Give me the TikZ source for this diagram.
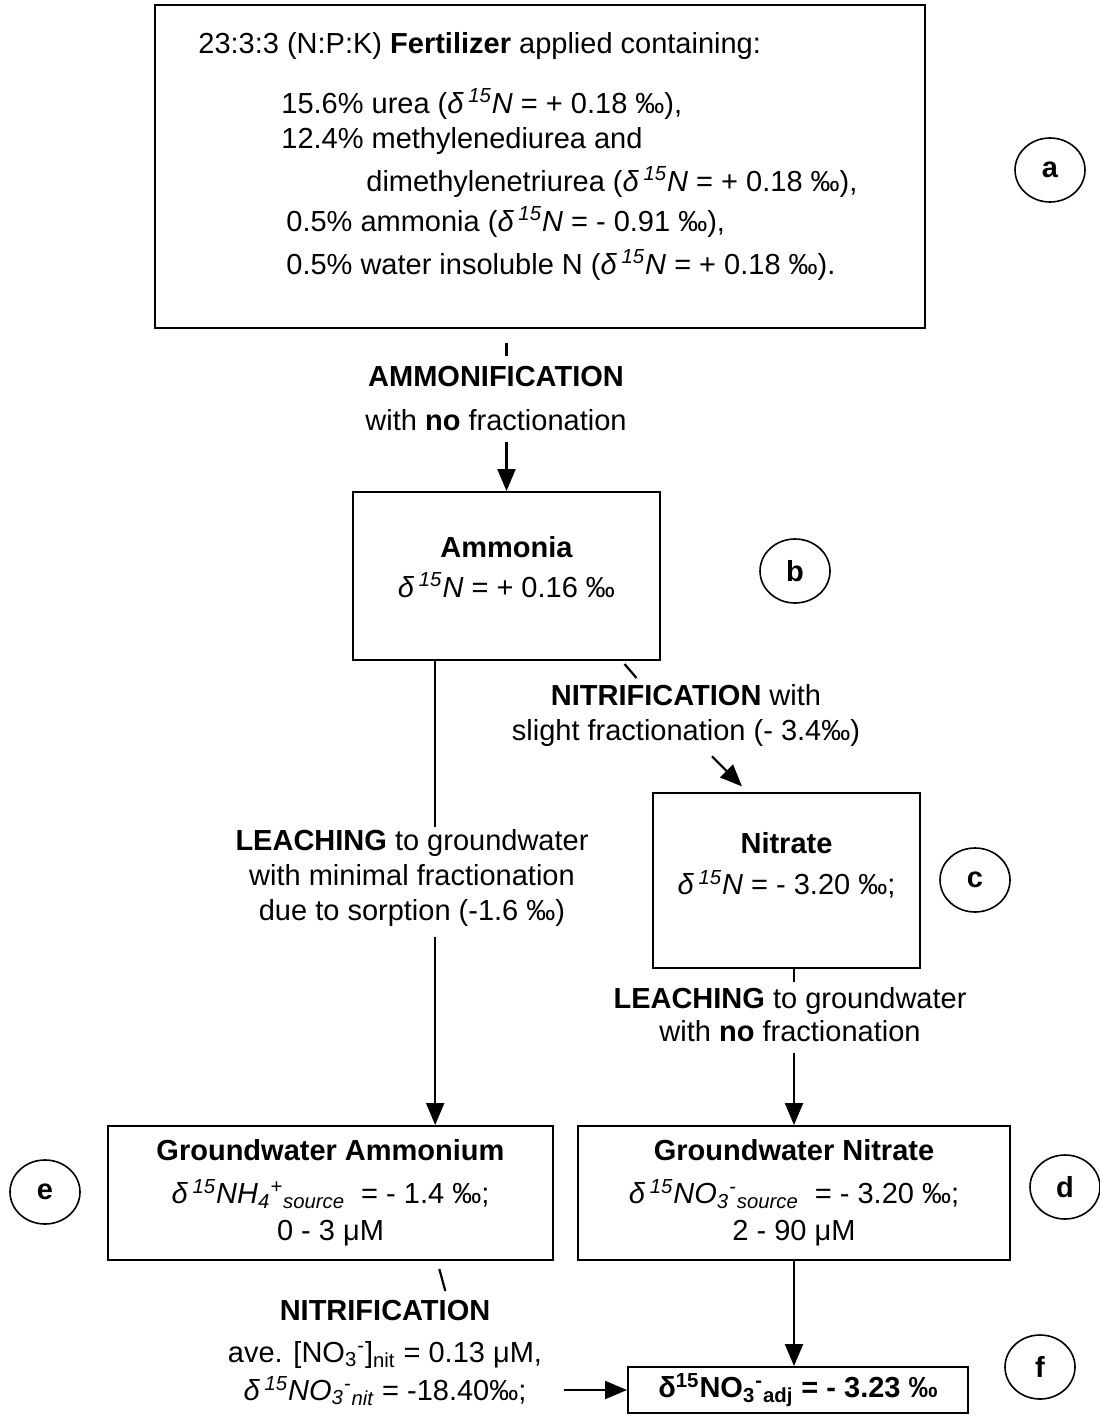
\documentclass[tikz,border=0pt]{standalone}
\usepackage{fontspec}
\setmainfont{Liberation Sans}
\usetikzlibrary{arrows.meta,shapes.geometric}

\newcommand{\dN}{\textit{δ\,\textsuperscript{15}N}}

\begin{document}
\begin{tikzpicture}[
  x=0.5pt, y=-0.5pt,
  every node/.style={font=\fontsize{14.5}{17.5}\selectfont},
  box/.style={rectangle, draw, line width=1pt, inner sep=0pt, align=center},
  txt/.style={align=center, inner sep=1pt},
  tag/.style={ellipse, draw, line width=0.8pt, minimum width=35pt, minimum height=32pt,
              inner sep=0pt, font=\fontsize{14.5}{17.5}\selectfont\bfseries},
  arr/.style={-{Triangle[length=11pt,width=9pt]}, line width=1.1pt},
  tick/.style={line width=1.1pt},
]
  \useasboundingbox (0,0) rectangle (1099,1418);

  % fertilizer
  \node[box, minimum width=385pt, minimum height=161.5pt] (fert) at (540,166.5) {};
  \node[anchor=north west, align=left, inner sep=0pt] (ferttxt) at (198,32)
    {23:3:3 (N:P:K) \textbf{Fertilizer} applied containing:\\[12.5pt]
     \hspace*{41.5pt}15.6\% urea (\dN{} = + 0.18 ‰),\\
     \hspace*{41.5pt}12.4\% methylenediurea and\\[4pt]
     \hspace*{84pt}dimethylenetriurea (\dN{} = + 0.18 ‰),\\[2.5pt]
     \hspace*{44pt}0.5\% ammonia (\dN{} = - 0.91 ‰),\\[4pt]
     \hspace*{44pt}0.5\% water insoluble N (\dN{} = + 0.18 ‰).};
  \node[tag] (taga) at (1050,170) {a};

  % ammonia
  \node[txt] (ammlbl) at (496,399) {\textbf{AMMONIFICATION}\\[4.5pt]with \textbf{no} fractionation};
  \node[box, minimum width=153.5pt, minimum height=84pt] (amm) at (506.5,576) {};
  \node[txt] (ammtxt) at (506.5,567) {\textbf{Ammonia}\\[2.5pt]\dN{} = + 0.16 ‰};
  \node[tag] (tagb) at (795,571) {b};

  \node[txt] (leach1) at (412,878)
    {\textbf{LEACHING} to groundwater\\with minimal fractionation\\due to sorption (-1.6 ‰)};
  \node[txt] (nitlbl) at (686,715) {\textbf{NITRIFICATION} with\\slight fractionation (- 3.4‰)};

  % nitrate
  \node[box, minimum width=133.5pt, minimum height=87.5pt] (nitr) at (786.5,880.5) {};
  \node[txt] (nitrtxt) at (786.5,865.5) {\textbf{Nitrate}\\[3pt]\dN{} = - 3.20 ‰;};
  \node[tag] (tagc) at (975,880) {c};
  \node[txt] (leach2) at (790,1015) {\textbf{LEACHING} to groundwater\\[-1pt]with \textbf{no} fractionation};

  % groundwater
  \node[box, minimum width=222.5pt, minimum height=67pt] (gwa) at (330.5,1193)
    {\textbf{Groundwater Ammonium}\\[4pt]
     \textit{δ\,\textsuperscript{15}NH\textsubscript{4}\textsuperscript{+}\textsubscript{source}} \ = - 1.4 ‰;\\[1pt]
     0 - 3 μM};
  \node[tag] (tage) at (45,1192) {e};
  \node[box, minimum width=216pt, minimum height=67pt] (gwn) at (794,1193)
    {\textbf{Groundwater Nitrate}\\[4pt]
     \textit{δ\,\textsuperscript{15}NO\textsubscript{3}\textsuperscript{-}\textsubscript{source}} \ = - 3.20 ‰;\\[1pt]
     2 - 90 μM};
  \node[tag] (tagd) at (1065,1187) {d};

  \node[txt] (nitlbl2) at (385,1353)
    {\textbf{NITRIFICATION}\\[3.5pt]
     ave. [NO\textsubscript{3}\textsuperscript{-}]\textsubscript{nit} = 0.13 μM,\\[1.5pt]
     \textit{δ\,\textsuperscript{15}NO\textsubscript{3}\textsuperscript{-}\textsubscript{nit}} = -18.40‰;};
  \node[box, minimum width=170pt, minimum height=23pt] (res) at (798,1390)
    {\textbf{δ\textsuperscript{15}NO\textsubscript{3}\textsuperscript{-}\textsubscript{adj} = - 3.23 ‰}};
  \node[tag] (tagf) at (1040,1367) {f};

  \draw[tick, shorten <=7pt, shorten >=4pt] (fert.south -| amm.north) -- (ammlbl.north -| amm.north);
  \draw[arr, shorten <=4pt] (ammlbl.south -| amm.north) -- (amm.north);
  \draw[tick] (amm.230) -- (leach1.north -| amm.230);
  \draw[arr, shorten <=4pt] (leach1.south -| amm.230) -- (gwa.north -| amm.230);
  \draw[tick] ([shift={(1,3)}]amm.-36) -- ++(12,14);
  \draw[arr] ([xshift=13pt,yshift=-4pt]nitlbl.south) -- ++(30,30);
  \draw[tick] (nitr.south -| gwn.north) -- ++(0,13);
  \draw[arr, shorten <=4pt] (leach2.south -| gwn.north) -- (gwn.north);
  \draw[tick] ([yshift=-4pt]gwa.-32) -- ++(6,22);
  \draw[arr] (gwn.south) -- (gwn.south |- res.north);
  \draw[arr, shorten <=10pt] (nitlbl2.east |- res.west) -- (res.west);
\end{tikzpicture}
\end{document}
